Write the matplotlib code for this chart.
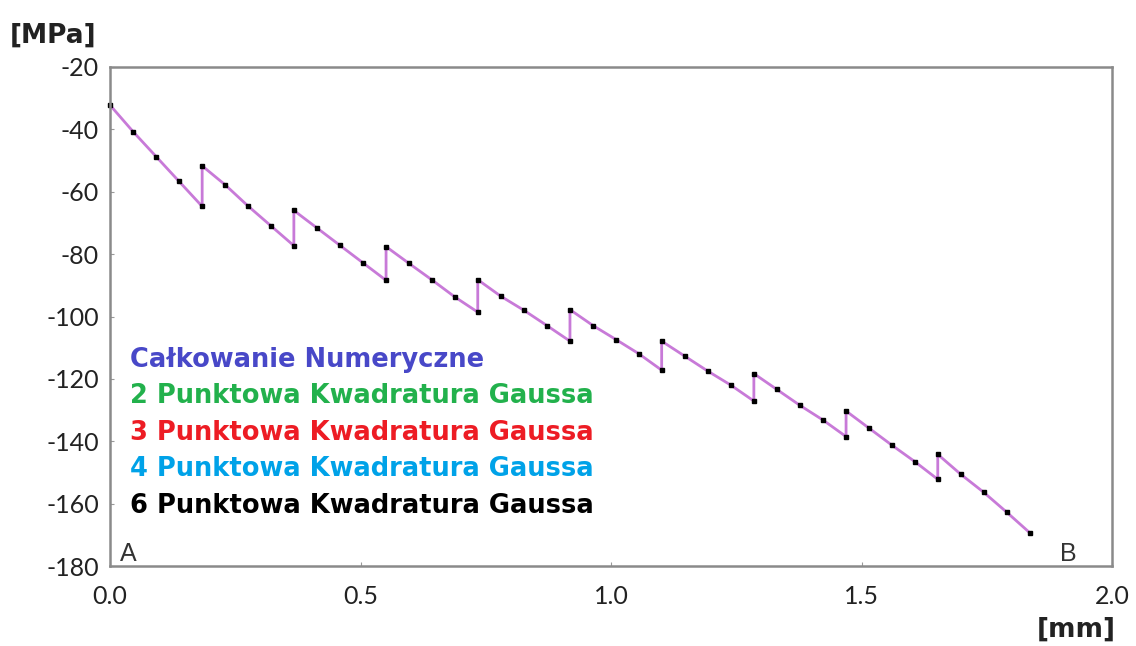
import matplotlib
matplotlib.use('Agg')
import matplotlib.pyplot as plt

plt.rcParams['axes.unicode_minus'] = False

# position along A-B [mm], 10 elements, 5 nodes each (jumps at element borders)
x = [0.000, 0.046, 0.092, 0.138, 0.184,
     0.184, 0.230, 0.275, 0.321, 0.367,
     0.367, 0.413, 0.459, 0.505, 0.551,
     0.551, 0.597, 0.642, 0.688, 0.734,
     0.734, 0.780, 0.826, 0.872, 0.918,
     0.918, 0.964, 1.010, 1.055, 1.101,
     1.101, 1.147, 1.193, 1.239, 1.285,
     1.285, 1.331, 1.377, 1.423, 1.469,
     1.469, 1.514, 1.560, 1.606, 1.652,
     1.652, 1.698, 1.744, 1.790, 1.836]
# stress [MPa]
s = [-32.2, -40.7, -48.7, -56.7, -64.7,
     -51.7, -57.8, -64.5, -70.9, -77.3,
     -66.0, -71.6, -77.2, -82.8, -88.4,
     -77.6, -83.0, -88.2, -93.7, -98.6,
     -88.2, -93.5, -98.0, -102.9, -107.9,
     -97.8, -102.9, -107.4, -111.9, -117.2,
     -107.9, -112.7, -117.5, -122.0, -127.1,
     -118.3, -123.4, -128.5, -133.2, -138.5,
     -130.3, -135.7, -141.2, -146.5, -152.2,
     -144.2, -150.6, -156.4, -162.8, -169.4]

labels = ['Całkowanie Numeryczne',
          '2 Punktowa Kwadratura Gaussa',
          '3 Punktowa Kwadratura Gaussa',
          '4 Punktowa Kwadratura Gaussa',
          '6 Punktowa Kwadratura Gaussa']
colors = ['#4848c8', '#22b14c', '#ed1c24', '#00a2e8', '#000000']

fig = plt.figure(figsize=(11.36, 6.46), dpi=100)
ax = fig.add_axes([0.0968, 0.1238, 0.8822, 0.7725])

ax.plot(x, s, '-', color='#c87ad8', lw=2, clip_on=False)
ax.plot(x, s, 's', color='black', ms=3.4, ls='none', clip_on=False)

ax.set_xlim(0, 2.0)
ax.set_ylim(-180, -20)
ax.set_xticks([0.0, 0.5, 1.0, 1.5, 2.0])
ax.set_xticklabels(['0.0', '0.5', '1.0', '1.5', '2.0'])
ax.set_yticks(range(-180, -19, 20))
ax.tick_params(direction='in', length=3, color='#999999', labelsize=18,
               labelcolor='#222222')
ax.tick_params(axis='y', pad=8)
ax.tick_params(axis='x', pad=14)
for lab in ax.get_xticklabels() + ax.get_yticklabels():
    lab.set_family('Lato')
for sp in ax.spines.values():
    sp.set_color('#8a8a8a')
    sp.set_linewidth(1.8)

# coloured legend text
for i, (t, c) in enumerate(zip(labels, colors)):
    ax.text(0.04, -113.8 - i*11.75, t, color=c, fontsize=18.5,
            fontweight='bold', family='DejaVu Sans', va='center', ha='left')

ax.text(0.02, -180, 'A', fontsize=18, color='#333333', va='bottom', ha='left',
        family='Liberation Sans')
ax.text(1.93, -180, 'B', fontsize=18, color='#333333', va='bottom', ha='right',
        family='Liberation Sans')

fig.text(0.009, 0.945, '[MPa]', fontsize=19, fontweight='bold', family='DejaVu Sans',
         va='center', ha='left', color='#222222')
fig.text(0.982, 0.025, '[mm]', fontsize=19, fontweight='bold', family='DejaVu Sans',
         va='center', ha='right', color='#222222')

fig.savefig('out.png', dpi=100)
